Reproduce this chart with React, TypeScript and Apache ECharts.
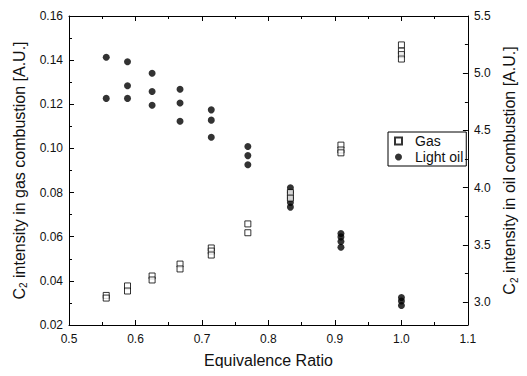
import React, { useEffect, useRef } from "react";
import * as echarts from "echarts";

const phiValues = [0.556, 0.588, 0.625, 0.667, 0.714, 0.769, 0.833, 0.909, 1.0];
const gasValues = [
  [0.0334, 0.0322],
  [0.0377, 0.0354],
  [0.0422, 0.0404],
  [0.0476, 0.0454],
  [0.0549, 0.0535, 0.0517],
  [0.0658, 0.0618],
  [0.08, 0.0775],
  [0.1015, 0.0993, 0.098],
  [0.1469, 0.1441, 0.1425, 0.1405],
];
const oilValues = [
  [5.14, 4.78],
  [5.1, 4.89, 4.78],
  [5.0, 4.84, 4.72],
  [4.86, 4.74, 4.58],
  [4.68, 4.59, 4.44],
  [4.36, 4.28, 4.2],
  [4.0, 3.96, 3.91, 3.87, 3.83],
  [3.6, 3.57, 3.53, 3.48],
  [3.04, 3.01, 2.97],
];
const rightMajorTicks = [3.0, 3.5, 4.0, 4.5, 5.0, 5.5];
const rightMinorTicks = [3.25, 3.75, 4.25, 4.75, 5.25];

const FONT = "'Liberation Sans', Arial, sans-serif";

export default function App() {
  const ref = useRef<HTMLDivElement>(null);
  useEffect(() => {
    if (!ref.current) return;
    const chart = echarts.init(ref.current, undefined, { renderer: "svg" });
    const gasData: number[][] = [];
    const oilData: number[][] = [];
    phiValues.forEach((p, i) => {
      gasValues[i].forEach((v) => gasData.push([p, v]));
      oilValues[i].forEach((v) => oilData.push([p, v]));
    });
    const axisLine = { show: true, lineStyle: { color: "#000", width: 1 } };
    const labelStyle = { color: "#111", fontFamily: FONT, fontSize: 12 };
    const nameRich = {
      a: { fontFamily: FONT, fontSize: 16, color: "#111" },
      s: { fontFamily: FONT, fontSize: 10, color: "#111", verticalAlign: "bottom", padding: [9, 0, 0, 0] },
    };
    chart.setOption({
      animation: false,
      backgroundColor: "#fff",
      grid: { left: 69, right: 44, top: 16, bottom: 51 },
      legend: {
        orient: "vertical",
        left: 388,
        top: 132,
        borderColor: "#000",
        borderWidth: 1,
        borderRadius: 0,
        padding: [2, 3, 2, 6],
        itemGap: 2,
        itemWidth: 7,
        itemHeight: 7,
        formatter: (name: string) => `{p|}{t|${name}}`,
        textStyle: {
          fontFamily: FONT,
          fontSize: 14,
          lineHeight: 14,
          color: "#111",
          rich: {
            p: { width: 8, height: 14 },
            t: { fontFamily: FONT, fontSize: 14, lineHeight: 14, color: "#111" },
          },
        },
        data: ["Gas", "Light oil"],
      },
      xAxis: [
        {
          type: "value",
          position: "bottom",
          min: 0.5,
          max: 1.1,
          interval: 0.1,
          axisLine,
          axisTick: { inside: true, length: 5, lineStyle: { color: "#000" } },
          minorTick: { show: true, splitNumber: 2, length: 3, lineStyle: { color: "#000" } },
          splitLine: { show: false },
          axisLabel: { ...labelStyle, margin: 8, formatter: (v: number) => v.toFixed(1) },
          name: "Equivalence Ratio",
          nameLocation: "middle",
          nameGap: 27,
          nameTextStyle: { fontFamily: FONT, fontSize: 16, color: "#111" },
        },
        {
          type: "value",
          position: "top",
          min: 0.5,
          max: 1.1,
          interval: 0.1,
          axisLine,
          axisTick: { inside: true, length: 5, lineStyle: { color: "#000" } },
          minorTick: { show: true, splitNumber: 2, length: 3, lineStyle: { color: "#000" } },
          splitLine: { show: false },
          axisLabel: { show: false },
        },
      ],
      yAxis: [
        {
          type: "value",
          position: "left",
          min: 0.02,
          max: 0.16,
          interval: 0.02,
          axisLine,
          axisTick: { inside: true, length: 5, lineStyle: { color: "#000" } },
          minorTick: { show: true, splitNumber: 2, length: 3, lineStyle: { color: "#000" } },
          splitLine: { show: false },
          axisLabel: { ...labelStyle, margin: 6, formatter: (v: number) => v.toFixed(2) },
          name: "{a|C}{s|2}{a| intensity in gas combustion [A.U.]}",
          nameLocation: "middle",
          nameGap: 39,
          nameTextStyle: { rich: nameRich },
        },
        {
          type: "value",
          position: "right",
          min: 2.8,
          max: 5.5,
          alignTicks: false,
          axisLine,
          axisTick: { inside: true, length: 5, customValues: rightMajorTicks, lineStyle: { color: "#000" } },
          splitLine: { show: false },
          axisLabel: { ...labelStyle, margin: 6, customValues: rightMajorTicks, formatter: (v: number) => v.toFixed(1) },
          name: "{a|C}{s|2}{a| intensity in oil combustion [A.U.]}",
          nameLocation: "middle",
          nameGap: 26,
          nameRotate: 90,
          nameTextStyle: { rich: nameRich },
        },
        {
          type: "value",
          position: "right",
          min: 2.8,
          max: 5.5,
          alignTicks: false,
          axisLine: { show: false },
          axisTick: { inside: true, length: 3, customValues: rightMinorTicks, lineStyle: { color: "#000" } },
          splitLine: { show: false },
          axisLabel: { show: false, customValues: rightMinorTicks },
        },
      ],
      series: [
        {
          name: "Gas",
          type: "scatter",
          xAxisIndex: 0,
          yAxisIndex: 0,
          symbol: "rect",
          symbolSize: 6,
          itemStyle: { color: "#fff", borderColor: "#000", borderWidth: 1 },
          data: gasData,
          z: 3,
        },
        {
          name: "Light oil",
          type: "scatter",
          xAxisIndex: 0,
          yAxisIndex: 1,
          symbol: "circle",
          symbolSize: 7,
          itemStyle: { color: "#000" },
          data: oilData,
          z: 2,
        },
      ],
    });
    return () => chart.dispose();
  }, []);
  return <div ref={ref} style={{ width: 527, height: 376, margin: -8 }} />;
}
